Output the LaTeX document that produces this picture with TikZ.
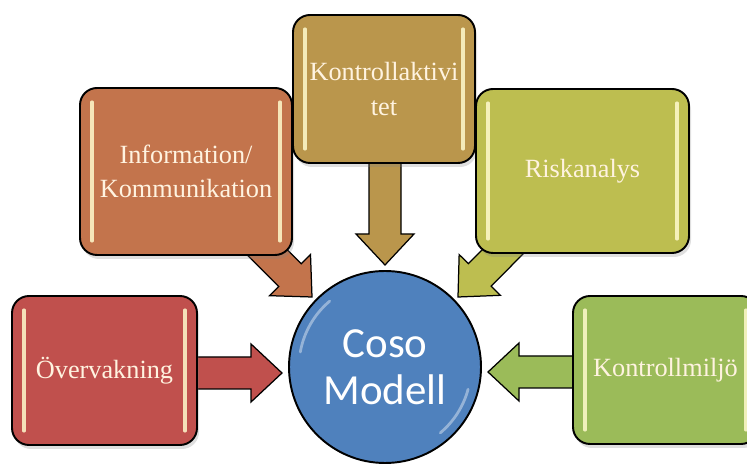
\documentclass[tikz,border=0pt]{standalone}
\usepackage{fontspec}
\setmainfont{Liberation Serif}
\newfontfamily\cosofont{Carlito}
\usetikzlibrary{calc,shadows}
\definecolor{ovcol}{RGB}{192,80,77}
\definecolor{infocol}{RGB}{195,116,76}
\definecolor{kontcol}{RGB}{186,150,76}
\definecolor{riskcol}{RGB}{189,190,80}
\definecolor{miljcol}{RGB}{155,187,89}
\definecolor{cosocol}{RGB}{79,129,189}
\definecolor{creme}{RGB}{255,243,224}
\definecolor{gloss}{RGB}{255,250,205}
\pgfdeclarelayer{back}
\pgfsetlayers{back,main}
\tikzset{
  box/.style={draw=black, line width=1.4pt, rounded corners=0.17in, text=creme,
    font=\fontsize{19}{25}\selectfont, align=center, inner sep=0pt,
    drop shadow={shadow xshift=0.02in, shadow yshift=-0.04in, opacity=0.25},
    path picture={
      \draw[gloss, line width=2.2pt, line cap=round, opacity=0.85]
        ([shift={(0.12in,0.14in)}]path picture bounding box.south west) --
        ([shift={(0.12in,-0.14in)}]path picture bounding box.north west)
        ([shift={(-0.12in,0.14in)}]path picture bounding box.south east) --
        ([shift={(-0.12in,-0.14in)}]path picture bounding box.north east);}},
  fat/.style={draw=black, line width=0.9pt, line join=miter}
}
\newcommand{\fatarrow}[3]{%
  \coordinate (fa) at (#1);
  \coordinate (fb) at (#2);
  \coordinate (fh) at ($(fb)!0.31in!(fa)$);
  \draw[fat, fill=#3] ($(fa)!0.16in!90:(fb)$) -- ($(fh)!0.16in!90:(fb)$) -- ($(fh)!0.29in!90:(fb)$) -- (fb)
    -- ($(fh)!0.29in!-90:(fb)$) -- ($(fh)!0.16in!-90:(fb)$) -- ($(fa)!0.16in!-90:(fb)$) -- cycle;
}
\begin{document}
\begin{tikzpicture}
\useasboundingbox (0,0) rectangle (7.47in,4.64in);
\node[box, fill=ovcol, minimum width=1.85in, minimum height=1.49in] (ov) at (1.045in,0.935in) {Övervakning};
\node[box, fill=infocol, minimum width=2.12in, minimum height=1.67in] (info) at (1.86in,2.925in) {Information/\\Kommunikation};
\node[box, fill=kontcol, minimum width=1.82in, minimum height=1.48in] (kont) at (3.84in,3.75in) {Kontrollaktivi\\tet};
\node[box, fill=riskcol, minimum width=2.13in, minimum height=1.64in] (risk) at (5.825in,2.93in) {Riskanalys};
\node[box, fill=miljcol, minimum width=1.85in, minimum height=1.48in] (milj) at (6.655in,0.94in) {Kontrollmiljö};
\node[circle, draw=black, line width=1.4pt, fill=cosocol, minimum size=1.92in, text=white,
  font=\cosofont\fontsize{31}{34}\selectfont, align=center,
  path picture={\draw[white, opacity=0.4, line width=2pt, line cap=round]
    (path picture bounding box.center) ++(130:0.86in) arc[start angle=130, end angle=170, radius=0.86in]
    (path picture bounding box.center) ++(-50:0.86in) arc[start angle=-50, end angle=-15, radius=0.86in];}] (coso) at (3.85in,0.97in) {Coso\\Modell};
\coordinate (t1) at (2.82in,0.91in);
\coordinate (t2) at (3.12in,1.67in);
\coordinate (t3) at (3.85in,1.99in);
\coordinate (t4) at (4.58in,1.67in);
\coordinate (t5) at (4.88in,0.92in);
\begin{pgfonlayer}{back}
\fatarrow{ov.center |- t1}{t1}{ovcol}
\fatarrow{info.center}{t2}{infocol}
\fatarrow{kont.center -| t3}{t3}{kontcol}
\fatarrow{risk.center}{t4}{riskcol}
\fatarrow{milj.center |- t5}{t5}{miljcol}
\end{pgfonlayer}
\end{tikzpicture}
\end{document}
